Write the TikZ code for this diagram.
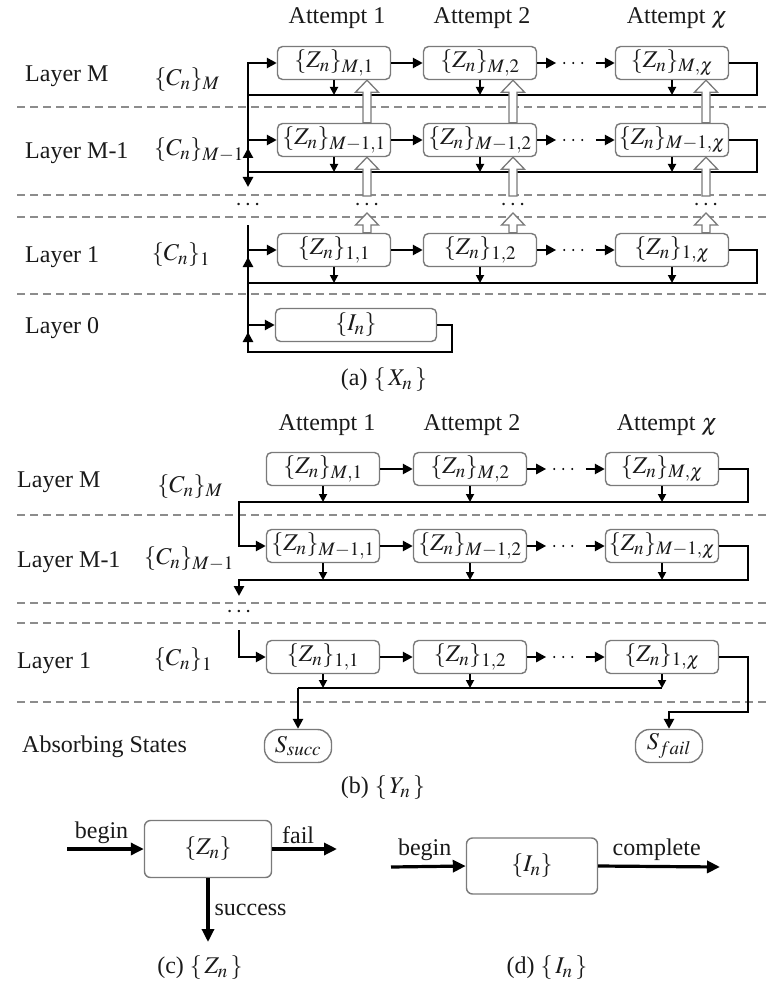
\documentclass[tikz,border=0pt]{standalone}
\usepackage{mathptmx}
\usepackage[no-math]{fontspec}
\setmainfont{Liberation Serif}
\usetikzlibrary{arrows.meta,calc}
\DeclareMathSizes{24}{24}{19}{15}
\definecolor{txt}{HTML}{1a1a1a}
\definecolor{bord}{HTML}{7a7a7a}
\definecolor{dashc}{HTML}{8c8c8c}
\newcommand\hollowarrow[2]{\path[hollowst] let \p1=#1, \p2=#2 in
  (\x1-4pt,\y1) -- (\x1-4pt,\y2-12pt) -- (\x1-11.5pt,\y2-12pt) -- (\x1,\y2) --
  (\x1+11.5pt,\y2-12pt) -- (\x1+4pt,\y2-12pt) -- (\x1+4pt,\y1) -- cycle;}
\tikzset{
  box/.style={draw=bord, line width=1.4pt, rounded corners=5pt, fill=white,
    minimum width=113pt, minimum height=33pt, inner sep=0pt, text=txt},
  sbox/.style={draw=bord, line width=1.4pt, rounded corners=14pt, fill=white,
    minimum width=67pt, minimum height=33pt, inner sep=0pt, text=txt},
  conn/.style={line width=2.8pt, draw=black},
  flow/.style={conn, -{Triangle[length=10pt,width=10pt]}},
  drop/.style={line width=1.8pt, -{Triangle[length=8pt,width=8pt]}},
  bigflow/.style={line width=3.2pt, -{Triangle[length=13pt,width=12pt]}},
  dashsep/.style={dashc, line width=1.6pt, dash pattern=on 8pt off 5pt},
  hollowst/.style={draw=bord, line width=1.3pt, fill=white},
  dotsline/.style={line width=2.4pt, line cap=round, dash pattern=on 0pt off 9pt},
  lab/.style={anchor=west, inner sep=0pt, text=txt},
  plain/.style={inner sep=0pt, text=txt},
}
\begin{document}
\begin{tikzpicture}[x=1pt,y=-1pt,font=\fontsize{24}{29}\selectfont]
\fill[white] (0,0) rectangle (768,987);
\useasboundingbox (0,0) rectangle (768,987);

%%%%%%%%%%%%%%%% (a)
\node[plain] (aT1) at (337,18) {Attempt 1};
\node[plain] (aT2) at (482,18) {Attempt 2};
\node[plain] (aT3) at (677,18) {Attempt $\chi$};

\node[lab] (aLM) at (25,76) {Layer M};
\node[lab] (aLM1) at (25,153) {Layer M-1};
\node[lab] (aL1) at (25,257) {Layer 1};
\node[lab] (aL0) at (25,328) {Layer 0};
\node[plain] (aCM) at (187,80) {$\{C_n\}_M$};
\node[plain] (aCM1) at (199,150) {$\{C_n\}_{M-1}$};
\node[plain] (aC1) at (181,255) {$\{C_n\}_1$};

\foreach \yy in {107,195,217,294} \draw[dashsep] (17,\yy) -- (768,\yy);

\coordinate (abus) at (248,0);
\coordinate (aright) at (757,0);
\coordinate (afM) at (0,95);
\coordinate (afM1) at (0,172);
\coordinate (af1) at (0,283);
\coordinate (af0) at (0,352);
\coordinate (adn) at (0,187);
\coordinate (aup) at (0,225);
\coordinate (i0r) at (452,0);
\coordinate (adB) at (0,196);
\coordinate (adC) at (0,213);
\coordinate (adots) at (0,205);
\coordinate (hx1) at (367,0);
\coordinate (hx2) at (513,0);
\coordinate (hx3) at (706,0);

\node[box] (a11) at (334,63) {$\{Z_n\}_{M,1}$};
\node[box] (a12) at (480,63) {$\{Z_n\}_{M,2}$};
\node[box] (a13) at (672,63) {$\{Z_n\}_{M,\chi}$};
\node[box] (a21) at (334,140) {$\{Z_n\}_{M-1,1}$};
\node[box] (a22) at (480,140) {$\{Z_n\}_{M-1,2}$};
\node[box] (a23) at (672,140) {$\{Z_n\}_{M-1,\chi}$};
\node[box] (a31) at (334,250) {$\{Z_n\}_{1,1}$};
\node[box] (a32) at (480,250) {$\{Z_n\}_{1,2}$};
\node[box] (a33) at (672,250) {$\{Z_n\}_{1,\chi}$};
\node[box, minimum width=161pt] (a0) at (356,325) {$\{I_n\}$};

% horizontal attempt arrows
\foreach \r in {1,2,3}{
  \draw[flow] (a\r1.east) -- (a\r2.west);
  \draw[flow] (a\r2.east) -- ++(19,0);
  \draw[dotsline] ($(a\r2.east)+(27,0)$) -- ($(a\r3.west)+(-25,0)$);
  \draw[flow] ($(a\r3.west)+(-19,0)$) -- (a\r3.west);
}
% drops
\foreach \c in {1,2,3}{
  \draw[drop] (a1\c.south) -- (a1\c.south |- afM);
  \draw[drop] (a2\c.south) -- (a2\c.south |- afM1);
  \draw[drop] (a3\c.south) -- (a3\c.south |- af1);
}
% loops
\draw[flow] (a13.east) -| (aright |- afM) -- (abus |- afM) |- (a11.west);
\draw[flow] (abus |- a11.west) -- (abus |- adn);
\draw[flow] (a23.east) -| (aright |- afM1) -- (abus |- afM1) |- (a21.west);
\draw[flow] ($(abus |- a21.west)+(0,16)$) -- ($(abus |- a21.west)+(0,8)$);
\draw[conn] (abus |- aup) -- (abus |- af0);
\draw[flow] (a33.east) -| (aright |- af1) -- (abus |- af1) |- (a31.west);
\draw[flow] ($(abus |- a31.west)+(0,16)$) -- ($(abus |- a31.west)+(0,7)$);
\draw[flow] (a0.east) -| (i0r |- af0) -- (abus |- af0) |- (a0.west);
\draw[flow] ($(abus |- a0.west)+(0,16)$) -- ($(abus |- a0.west)+(0,7)$);
% hollow arrows
\foreach \c in {1,2,3}{
  \hollowarrow{(hx\c |- a2\c.north)}{(hx\c |- a1\c.south)}
  \hollowarrow{(hx\c |- adB)}{(hx\c |- a2\c.south)}
  \hollowarrow{(hx\c |- a3\c.north)}{(hx\c |- adC)}
  \node[plain] (adot\c) at (hx\c |- adots) {$\cdots$};
}
\node[plain] (adot0) at (abus |- adots) {$\cdots$};
\node[plain] (acap) at (384,380) {(a) $\{\,X_n\,\}$};

%%%%%%%%%%%%%%%% (b)
\node[plain] (bT1) at (327,425) {Attempt 1};
\node[plain] (bT2) at (472,425) {Attempt 2};
\node[plain] (bT3) at (667,425) {Attempt $\chi$};

\node[lab] (bLM) at (17,482) {Layer M};
\node[lab] (bLM1) at (17,562) {Layer M-1};
\node[lab] (bL1) at (17,663) {Layer 1};
\node[lab] (bAbs) at (22,747) {Absorbing States};
\node[plain] (bCM) at (190,487) {$\{C_n\}_M$};
\node[plain] (bCM1) at (189,559) {$\{C_n\}_{M-1}$};
\node[plain] (bC1) at (183,660) {$\{C_n\}_1$};

\foreach \yy in {515,603,623,702} \draw[dashsep] (17,\yy) -- (768,\yy);

\coordinate (bL) at (239,0);
\coordinate (bR) at (748,0);
\coordinate (bfM) at (0,502);
\coordinate (bfM1) at (0,580);
\coordinate (bdn) at (0,596);
\coordinate (bst) at (0,630);
\coordinate (bdots) at (0,612);
\coordinate (bf1) at (0,688);
\coordinate (bff) at (0,712);

\node[box] (b11) at (323,469) {$\{Z_n\}_{M,1}$};
\node[box] (b12) at (470,469) {$\{Z_n\}_{M,2}$};
\node[box] (b13) at (662,469) {$\{Z_n\}_{M,\chi}$};
\node[box] (b21) at (323,546) {$\{Z_n\}_{M-1,1}$};
\node[box] (b22) at (470,546) {$\{Z_n\}_{M-1,2}$};
\node[box] (b23) at (662,546) {$\{Z_n\}_{M-1,\chi}$};
\node[box] (b31) at (323,657) {$\{Z_n\}_{1,1}$};
\node[box] (b32) at (470,657) {$\{Z_n\}_{1,2}$};
\node[box] (b33) at (662,657) {$\{Z_n\}_{1,\chi}$};
\node[sbox] (ss) at (298,746) {$S_{succ}$};
\node[sbox] (sf) at (669,746) {$S_{fail}$};

\foreach \r in {1,2,3}{
  \draw[flow] (b\r1.east) -- (b\r2.west);
  \draw[flow] (b\r2.east) -- ++(19,0);
  \draw[dotsline] ($(b\r2.east)+(27,0)$) -- ($(b\r3.west)+(-25,0)$);
  \draw[flow] ($(b\r3.west)+(-19,0)$) -- (b\r3.west);
}
\foreach \c in {1,2,3}{
  \draw[drop] (b1\c.south) -- (b1\c.south |- bfM);
  \draw[drop] (b2\c.south) -- (b2\c.south |- bfM1);
  \draw[drop] (b3\c.south) -- (b3\c.south |- bf1);
}
\draw[flow] (b13.east) -| (bR |- bfM) -- (bL |- bfM) |- (b21.west);
\draw[flow] (b23.east) -| (bR |- bfM1) -- (bL |- bfM1) -- (bL |- bdn);
\node[plain] (bdot) at (bL |- bdots) {$\cdots$};
\draw[flow] (bL |- bst) |- (b31.west);
\draw[conn] (ss.north |- bf1) -- (b33.south |- bf1);
\draw[flow] (ss.north |- bf1) -- (ss.north);
\draw[flow] (b33.east) -| (bR |- bff) -| (sf.north);
\node[plain] (bcap) at (383,788) {(b) $\{\,Y_n\,\}$};

%%%%%%%%%%%%%%%% (c)
\node[box, minimum width=127pt, minimum height=57pt, rounded corners=6pt] (cz) at (208,849) {$\{Z_n\}$};
\coordinate (cin) at (67,849);
\coordinate (cout) at (337,849);
\coordinate (cdn) at (0,942);
\draw[bigflow] (cin) -- (cz.west) node[pos=0.45, above=4pt, plain] (cbegin) {begin};
\draw[bigflow] (cz.east) -- (cout) node[pos=0.4, above=4pt, plain] (cfail) {fail};
\draw[bigflow] (cz.south) -- (cz.south |- cdn) node[midway, right=5pt, plain] (csucc) {success};
\node[plain] (ccap) at (200,968) {(c) $\{\,Z_n\,\}$};

%%%%%%%%%%%%%%%% (d)
\node[box, minimum width=131pt, minimum height=56pt, rounded corners=6pt] (di) at (532,866) {$\{I_n\}$};
\coordinate (din) at (391,867);
\coordinate (dout) at (720,867);
\draw[bigflow] (din) -- (di.west) node[pos=0.45, above=4pt, plain] (dbegin) {begin};
\draw[bigflow] (di.east) -- (dout) node[pos=0.48, above=4pt, plain] (dcomp) {complete};
\node[plain] (dcap) at (547,968) {(d) $\{\,I_n\,\}$};
\end{tikzpicture}
\end{document}
